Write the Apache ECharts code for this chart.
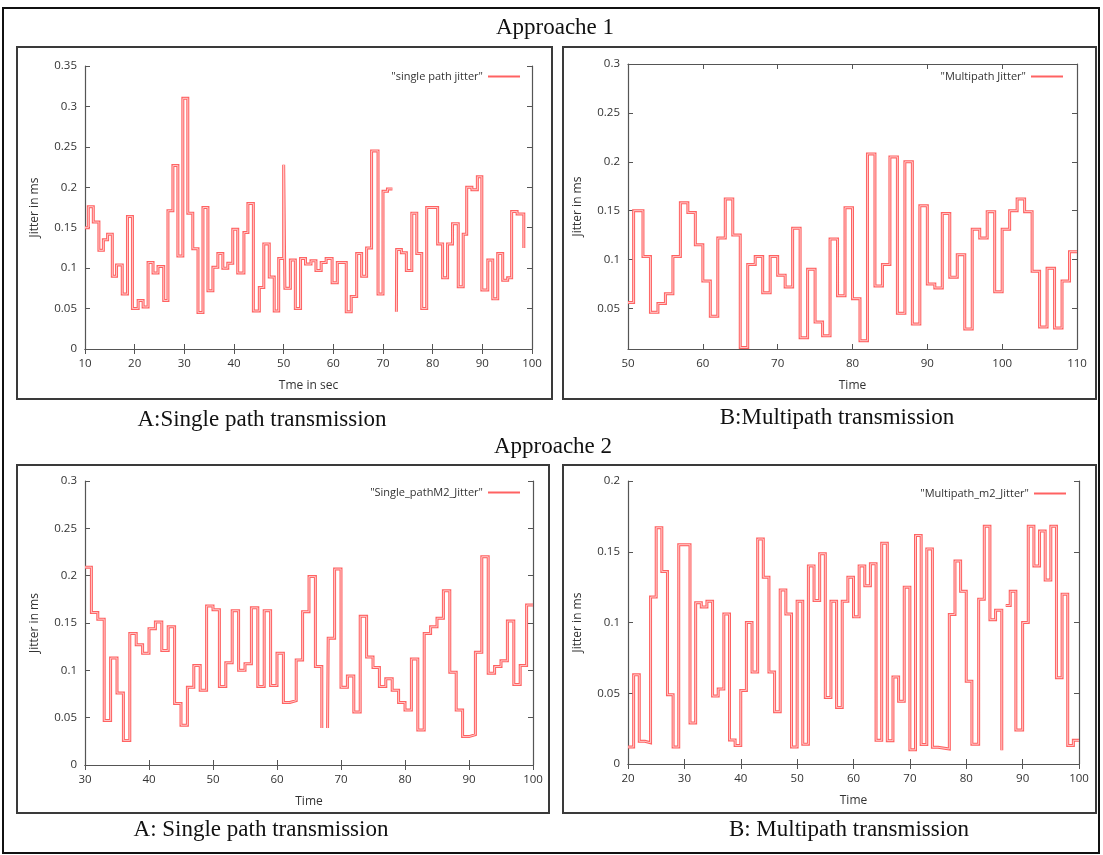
<!DOCTYPE html>
<html>
<head>
<meta charset="utf-8">
<script src="https://cdn.jsdelivr.net/npm/echarts@6/dist/echarts.min.js"></script>
<style>
html,body{margin:0;padding:0;background:#fff;}
#c{width:1103px;height:855px;}
</style>
</head>
<body>
<div id="c"></div>
<script>
// ---------- DATA ----------
// Approach 1, A: single path jitter
const p1Time = [10, 10.67, 11.67, 12.8, 13.7, 14.55, 15.5, 16.35, 17.5, 18.55, 19.55, 20.7, 21.7, 22.7, 23.7, 24.7, 25.85, 26.7, 27.7, 28.7, 29.7, 30.7, 31.7, 32.75, 33.75, 34.75, 35.75, 36.75, 37.75, 38.75, 39.75, 40.75, 42, 42.8, 43.9, 45.1, 46, 47.1, 48.1, 49, 50, 50.25, 51.35, 52.35, 53.4, 54.4, 55.5, 56.5, 57.55, 58.55, 59.75, 60.8, 62.6, 63.6, 64.7, 65.7, 66.7, 67.7, 69, 70, 70.9, 71.9, 71.95, 72.7, 72.75, 73.7, 74.7, 75.8, 76.8, 77.8, 78.8, 81, 82, 83, 84, 85.15, 86.15, 86.85, 87.9, 89, 89.9, 91.1, 92.1, 93.1, 94.1, 95.1, 95.9, 97, 98.35];
const p1Jitter = [0.15, 0.176, 0.157, 0.122, 0.135, 0.142, 0.09, 0.104, 0.068, 0.164, 0.05, 0.06, 0.052, 0.107, 0.094, 0.102, 0.06, 0.171, 0.227, 0.115, 0.31, 0.168, 0.124, 0.045, 0.175, 0.072, 0.101, 0.118, 0.1, 0.106, 0.148, 0.094, 0.144, 0.18, 0.047, 0.076, 0.13, 0.089, 0.047, 0.112, 0.228, 0.075, 0.11, 0.05, 0.112, 0.105, 0.109, 0.097, 0.107, 0.112, 0.082, 0.107, 0.046, 0.065, 0.118, 0.09, 0.125, 0.245, 0.068, 0.195, 0.198, 0.198, null, 0.046, 0.123, 0.119, 0.097, 0.168, 0.118, 0.05, 0.175, 0.13, 0.088, 0.13, 0.155, 0.077, 0.142, 0.2, 0.197, 0.213, 0.073, 0.11, 0.062, 0.118, 0.085, 0.088, 0.17, 0.167, 0.125];

// Approach 1, B: multipath jitter
const p2Time = [50, 50.75, 52, 53, 54, 55, 56, 57, 58, 59, 60, 61, 62, 63, 64, 65, 66, 67, 68, 69, 70, 71, 72, 73, 74, 75, 76, 77, 78, 79, 80, 81, 82, 83, 84, 85, 86, 87, 88, 89, 90, 91, 92, 93, 94, 95, 96, 97, 98, 99, 100, 101, 102, 103, 104, 105, 106, 107, 108, 109, 110];
const p2Jitter = [0.056, 0.15, 0.103, 0.046, 0.055, 0.065, 0.103, 0.158, 0.148, 0.115, 0.078, 0.042, 0.122, 0.162, 0.125, 0.01, 0.095, 0.103, 0.066, 0.103, 0.084, 0.072, 0.132, 0.02, 0.09, 0.036, 0.022, 0.121, 0.063, 0.153, 0.06, 0.017, 0.208, 0.073, 0.095, 0.205, 0.045, 0.2, 0.034, 0.155, 0.075, 0.071, 0.147, 0.082, 0.105, 0.029, 0.131, 0.122, 0.149, 0.067, 0.131, 0.15, 0.162, 0.149, 0.088, 0.031, 0.091, 0.03, 0.078, 0.108, 0.108];

// Approach 2, A: single path M2 jitter
const p3Time = [30, 31, 32, 33, 34, 35, 36, 37, 38, 39, 40, 41, 42, 43, 44, 45, 46, 47, 48, 49, 50, 51, 52, 53, 54, 55, 56, 57, 58, 59, 60, 61, 62, 63, 64, 65, 66, 67, 67.1, 67.9, 68, 69, 70, 71, 72, 73, 74, 75, 76, 77, 78, 79, 80, 81, 82, 83, 84, 85, 86, 87, 88, 89, 90, 91, 92, 93, 94, 95, 96, 97, 98, 99, 100];
const p3Jitter = [0.209, 0.161, 0.154, 0.047, 0.113, 0.076, 0.026, 0.139, 0.127, 0.118, 0.144, 0.151, 0.121, 0.146, 0.065, 0.042, 0.082, 0.105, 0.079, 0.168, 0.164, 0.083, 0.108, 0.163, 0.1, 0.107, 0.166, 0.083, 0.163, 0.084, 0.118, 0.066, 0.068, 0.111, 0.162, 0.199, 0.104, 0.039, null, 0.039, 0.134, 0.207, 0.082, 0.094, 0.056, 0.157, 0.114, 0.103, 0.083, 0.091, 0.079, 0.066, 0.058, 0.112, 0.037, 0.139, 0.146, 0.155, 0.184, 0.098, 0.058, 0.03, 0.032, 0.119, 0.22, 0.097, 0.104, 0.11, 0.152, 0.085, 0.105, 0.169, 0.169];

// Approach 2, B: multipath m2 jitter
const p4Time = [20, 21, 22, 23, 24, 25, 26, 27, 28, 29, 31, 32, 33, 34, 35, 36, 37, 38, 39, 40, 41, 42, 43, 44, 45, 46, 47, 48, 49, 50, 51, 52, 53, 54, 55, 56, 57, 58, 59, 60, 61, 62, 63, 64, 65, 66, 67, 68, 69, 70, 71, 72, 73, 74, 75, 77, 78, 79, 80, 81, 82.2, 83.2, 84.2, 85.2, 86.3, 86.35, 87, 87.8, 88.8, 90, 91, 92, 93, 94, 95, 96, 97, 98, 99, 100];
const p4Jitter = [0.012, 0.063, 0.016, 0.015, 0.118, 0.167, 0.136, 0.049, 0.012, 0.155, 0.029, 0.114, 0.111, 0.115, 0.048, 0.053, 0.106, 0.017, 0.013, 0.052, 0.1, 0.065, 0.159, 0.132, 0.065, 0.037, 0.123, 0.106, 0.012, 0.115, 0.014, 0.14, 0.1155, 0.1486, 0.047, 0.115, 0.04, 0.115, 0.132, 0.104, 0.14, 0.126, 0.1415, 0.0167, 0.156, 0.0165, 0.0615, 0.0443, 0.125, 0.01, 0.1615, 0.0137, 0.152, 0.0118, 0.0106, 0.1057, 0.1434, 0.122, 0.0585, 0.014, 0.1165, 0.168, 0.102, 0.1087, 0.0097, null, 0.112, 0.122, 0.024, 0.1, 0.168, 0.14, 0.1646, 0.13, 0.168, 0.061, 0.12, 0.013, 0.0167, 0.0167];

// Tick values
const p1XTicks = [10, 20, 30, 40, 50, 60, 70, 80, 90, 100];
const p1YTicks = [0, 0.05, 0.1, 0.15, 0.2, 0.25, 0.3, 0.35];
const p2XTicks = [50, 60, 70, 80, 90, 100, 110];
const p2YTicks = [0.05, 0.1, 0.15, 0.2, 0.25, 0.3];
const p3XTicks = [30, 40, 50, 60, 70, 80, 90, 100];
const p3YTicks = [0, 0.05, 0.1, 0.15, 0.2, 0.25, 0.3];
const p4XTicks = [20, 30, 40, 50, 60, 70, 80, 90, 100];
const p4YTicks = [0, 0.05, 0.1, 0.15, 0.2];

const seriesNames = ['"single path jitter"', '"Multipath Jitter"', '"Single_pathM2_Jitter"', '"Multipath_m2_Jitter"'];
const xNames = ['Tme in sec', 'Time', 'Time', 'Time'];
const yName = 'Jitter in ms';

// ---------- LAYOUT / STYLE ----------
const panels = [
  {time: p1Time, val: p1Jitter, xt: p1XTicks, yt: p1YTicks, xmin: 10, xmax: 100, ymin: 0, ymax: 0.35,
   grid: {left: 85, top: 66, width: 447, height: 283}, legend: {right: 583, top: 71}},
  {time: p2Time, val: p2Jitter, xt: p2XTicks, yt: p2YTicks, xmin: 50, xmax: 110, ymin: 0.0085, ymax: 0.3,
   grid: {left: 628, top: 64, width: 449, height: 285}, legend: {right: 40, top: 71}},
  {time: p3Time, val: p3Jitter, xt: p3XTicks, yt: p3YTicks, xmin: 30, xmax: 100, ymin: 0, ymax: 0.3,
   grid: {left: 85, top: 481, width: 448, height: 284}, legend: {right: 583, top: 487}},
  {time: p4Time, val: p4Jitter, xt: p4XTicks, yt: p4YTicks, xmin: 20, xmax: 100, ymin: 0, ymax: 0.2,
   grid: {left: 628, top: 481, width: 451, height: 283}, legend: {right: 37, top: 488}}
];

const AX = '#555';
const RED = '#ff6262';
const INNER = '#ffc8c8';
const labelFont = {fontFamily: '"Open Sans", "DejaVu Sans", sans-serif', fontSize: 11.5, color: '#333'};

const grids = [], xAxes = [], yAxes = [], series = [], legends = [];
panels.forEach((p, i) => {
  grids.push(Object.assign({containLabel: false, show: false}, p.grid));
  const lineCfg = {show: true, lineStyle: {color: AX, width: 1.2}};
  const tickCfg = (vals) => ({show: true, inside: true, length: 5, customValues: vals, lineStyle: {color: AX, width: 1}});
  xAxes.push({type: 'value', gridIndex: i, position: 'bottom', min: p.xmin, max: p.xmax,
    axisLine: lineCfg, axisTick: tickCfg(p.xt), splitLine: {show: false},
    axisLabel: Object.assign({show: true, margin: 9, customValues: p.xt}, labelFont),
    name: xNames[i], nameLocation: 'middle', nameGap: 31,
    nameTextStyle: {fontFamily: '"Open Sans", "DejaVu Sans", sans-serif', fontSize: 12, color: '#333'}});
  xAxes.push({type: 'value', gridIndex: i, position: 'top', min: p.xmin, max: p.xmax,
    axisLine: lineCfg, axisTick: tickCfg(p.xt), splitLine: {show: false}, axisLabel: {show: false}});
  yAxes.push({type: 'value', gridIndex: i, position: 'left', min: p.ymin, max: p.ymax,
    axisLine: lineCfg, axisTick: tickCfg(p.yt), splitLine: {show: false},
    axisLabel: Object.assign({show: true, margin: 8, customValues: p.yt}, labelFont),
    name: yName, nameLocation: 'middle', nameGap: 44,
    nameTextStyle: {fontFamily: '"Open Sans", "DejaVu Sans", sans-serif', fontSize: 12, color: '#333'}});
  yAxes.push({type: 'value', gridIndex: i, position: 'right', min: p.ymin, max: p.ymax,
    axisLine: lineCfg, axisTick: tickCfg(p.yt), splitLine: {show: false}, axisLabel: {show: false}});

  const data = p.time.map((t, k) => [t, p.val[k]]);
  series.push({type: 'line', name: seriesNames[i], xAxisIndex: 2 * i, yAxisIndex: 2 * i,
    data: data, step: 'end', showSymbol: false, symbol: 'none', connectNulls: false,
    color: RED, lineStyle: {color: RED, width: 3, join: 'miter', cap: 'butt'}, z: 3, silent: true});
  series.push({type: 'line', name: 'inner' + i, xAxisIndex: 2 * i, yAxisIndex: 2 * i,
    data: data, step: 'end', showSymbol: false, symbol: 'none', connectNulls: false,
    color: INNER, lineStyle: {color: INNER, width: 1, join: 'miter', cap: 'butt'}, z: 4, silent: true});

  legends.push({data: [seriesNames[i]], right: p.legend.right, top: p.legend.top, padding: 0,
    align: 'right', icon: 'rect', itemWidth: 32, itemHeight: 2, itemGap: 6, selectedMode: false,
    textStyle: {fontFamily: '"Open Sans", "DejaVu Sans", sans-serif', fontSize: 11, color: '#333'}});
});

const serif = '"Liberation Serif", "Times New Roman", serif';
const txt = (s, x, y) => ({type: 'text', x: x, y: y, style: {text: s, fill: '#111', font: '23px ' + serif, align: 'center', verticalAlign: 'middle'}, z: 10});
const box = (x, y, w, h, lw, col) => ({type: 'rect', shape: {x: x, y: y, width: w, height: h}, style: {fill: 'none', stroke: col, lineWidth: lw}, z: 1});

const option = {
  animation: false,
  backgroundColor: '#fff',
  grid: grids, xAxis: xAxes, yAxis: yAxes, series: series, legend: legends,
  graphic: [
    box(3, 8, 1096, 845, 2, '#111'),
    box(17, 47, 535, 352, 2, '#3a3a3a'),
    box(563, 47, 533, 352, 2, '#3a3a3a'),
    box(17, 465, 532, 348, 2, '#3a3a3a'),
    box(563, 465, 533, 348, 2, '#3a3a3a'),
    txt('Approache 1', 555, 28),
    txt('A:Single path transmission', 262, 420),
    txt('B:Multipath transmission', 837, 418),
    txt('Approache 2', 553, 447),
    txt('A: Single path transmission', 261, 830),
    txt('B: Multipath transmission', 849, 830)
  ]
};

const chart = echarts.init(document.getElementById('c'), null, {renderer: 'canvas'});
chart.setOption(option);
</script>
</body>
</html>
